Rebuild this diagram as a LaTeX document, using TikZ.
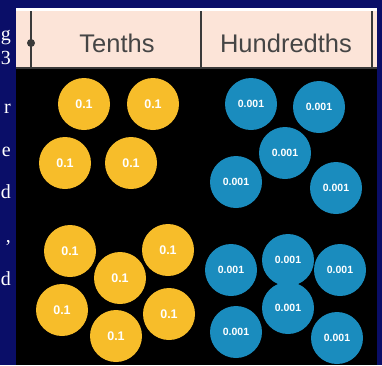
\documentclass[tikz,border=0pt]{standalone}
\usepackage{fontspec}
\setmainfont{Liberation Serif}
\newfontfamily\arialfont{Liberation Sans}
\usetikzlibrary{positioning}
\definecolor{bgnavy}{HTML}{0A0E68}
\definecolor{headpink}{HTML}{FCE4D8}
\definecolor{divgray}{HTML}{3A3A3A}
\definecolor{txtgray}{HTML}{454545}
\definecolor{tenthyellow}{HTML}{F7BD2A}
\definecolor{hundblue}{HTML}{1A8CBE}

\begin{document}
\begin{tikzpicture}[x=1pt, y=-1pt]
      \tikzstyle{tnode} = [circle, fill=tenthyellow, minimum size = 52pt, inner sep = 0pt, text=white, font=\arialfont\bfseries\fontsize{12.5}{12.5}\selectfont]
      \tikzstyle{hnode} = [circle, fill=hundblue, minimum size = 52pt, inner sep = 0pt, text=white, font=\arialfont\bfseries\fontsize{10.5}{10.5}\selectfont]
      \tikzstyle{hdr} = [text=txtgray, font=\arialfont\fontsize{25.5}{25.5}\selectfont]
      \tikzstyle{frag} = [text=white, anchor=base east, inner sep = 0pt, font=\fontsize{20}{20}\selectfont]
      \tikzstyle{divider} = [draw=divgray, line width=2pt]

      % background and table frame
      \fill[bgnavy] (0,0) rectangle (382,365);
      \useasboundingbox (0,0) rectangle (382,365);
      \fill[black] (16,8) rectangle (377,365);
      \fill[white] (16,8) rectangle (377,11);
      \fill[headpink] (16,11) rectangle (377,67);
      \draw[divider] (16,68) -- (377,68);
      \draw[divider] (31,11) -- (31,68);
      \draw[divider] (201,11) -- (201,68);
      \draw[divider] (372,11) -- (372,68);
      \fill[divgray] (31,43) circle (4pt);

      % cut-off text on the left
      \node[frag] (f1) at (11,40) {g};
      \node[frag] (f2) at (11,64) {3};
      \node[frag] (f3) at (11,113) {r};
      \node[frag] (f4) at (11,156) {e};
      \node[frag] (f5) at (11,198) {d};
      \node[frag] (f6) at (11,242) {,};
      \node[frag] (f7) at (11,285) {d};

      \node[hdr] (tenths) at (117,43) {Tenths};
      \node[hdr] (hundredths) at (286,43) {Hundredths};

      % tenths
      \node[tnode] (t1) at (84,104) {0.1};
      \node[tnode] (t2) at (153,104) {0.1};
      \node[tnode] (t3) at (65,163) {0.1};
      \node[tnode] (t4) at (131,163) {0.1};

      \node[tnode] (t5) at (70,251) {0.1};
      \node[tnode] (t6) at (168,250) {0.1};
      \node[tnode] (t7) at (120,278) {0.1};
      \node[tnode] (t8) at (62,310) {0.1};
      \node[tnode] (t9) at (169,314) {0.1};
      \node[tnode] (t10) at (116,336) {0.1};

      % hundredths
      \node[hnode] (h1) at (251,104) {0.001};
      \node[hnode] (h2) at (319,107) {0.001};
      \node[hnode] (h3) at (285,153) {0.001};
      \node[hnode] (h4) at (236,182) {0.001};
      \node[hnode] (h5) at (336,188) {0.001};

      \node[hnode] (h6) at (288,260) {0.001};
      \node[hnode] (h7) at (231,270) {0.001};
      \node[hnode] (h8) at (340,270) {0.001};
      \node[hnode] (h9) at (288,308) {0.001};
      \node[hnode] (h10) at (236,332) {0.001};
      \node[hnode] (h11) at (337,338) {0.001};
\end{tikzpicture}
\end{document}
